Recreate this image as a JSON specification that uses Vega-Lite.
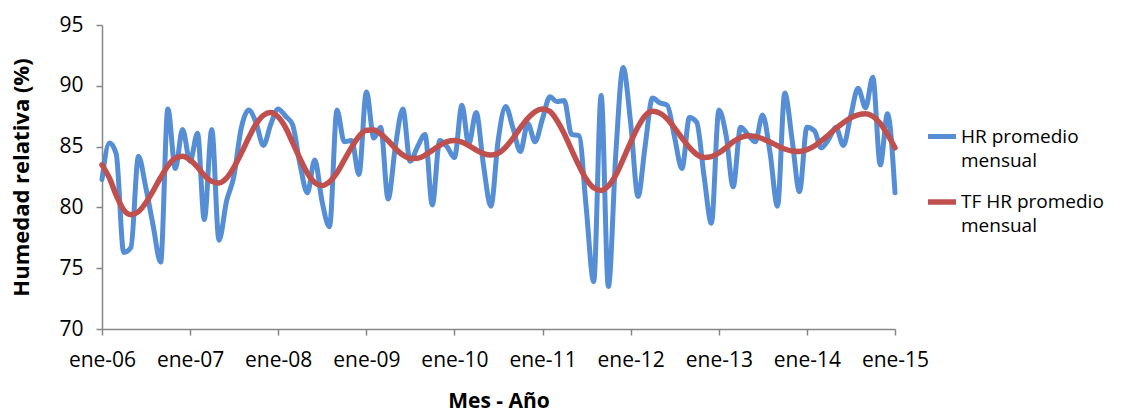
{
  "$schema": "https://vega.github.io/schema/vega-lite/v6.json",
  "width": 793,
  "height": 304,
  "autosize": {"type": "none"},
  "padding": {"left": 102, "top": 25, "right": 232, "bottom": 83},
  "background": "white",
  "config": {
    "view": {"stroke": null},
    "font": "Open Sans"
  },
  "data": {
    "values": [
      {"fecha": "2006-01-01", "hr": 82.3, "tf": 83.5},
      {"fecha": "2006-02-01", "hr": 85.3, "tf": 82.4},
      {"fecha": "2006-03-01", "hr": 84.4, "tf": 81.0},
      {"fecha": "2006-04-01", "hr": 76.3, "tf": 79.8},
      {"fecha": "2006-05-01", "hr": 76.7, "tf": 79.4},
      {"fecha": "2006-06-01", "hr": 84.2, "tf": 79.65},
      {"fecha": "2006-07-01", "hr": 81.7, "tf": 80.36},
      {"fecha": "2006-08-01", "hr": 78.5, "tf": 81.36},
      {"fecha": "2006-09-01", "hr": 75.5, "tf": 82.46},
      {"fecha": "2006-10-01", "hr": 88.1, "tf": 83.42},
      {"fecha": "2006-11-01", "hr": 83.2, "tf": 84.04},
      {"fecha": "2006-12-01", "hr": 86.4, "tf": 84.2},
      {"fecha": "2007-01-01", "hr": 83.8, "tf": 83.9},
      {"fecha": "2007-02-01", "hr": 86.1, "tf": 83.31},
      {"fecha": "2007-03-01", "hr": 79.0, "tf": 82.63},
      {"fecha": "2007-04-01", "hr": 86.4, "tf": 82.14},
      {"fecha": "2007-05-01", "hr": 77.3, "tf": 82.0},
      {"fecha": "2007-06-01", "hr": 80.5, "tf": 82.4},
      {"fecha": "2007-07-01", "hr": 82.5, "tf": 83.27},
      {"fecha": "2007-08-01", "hr": 86.5, "tf": 84.45},
      {"fecha": "2007-09-01", "hr": 88.0, "tf": 85.72},
      {"fecha": "2007-10-01", "hr": 87.0, "tf": 86.83},
      {"fecha": "2007-11-01", "hr": 85.1, "tf": 87.57},
      {"fecha": "2007-12-01", "hr": 86.8, "tf": 87.8},
      {"fecha": "2008-01-01", "hr": 88.1, "tf": 87.44},
      {"fecha": "2008-02-01", "hr": 87.5, "tf": 86.56},
      {"fecha": "2008-03-01", "hr": 86.8, "tf": 85.33},
      {"fecha": "2008-04-01", "hr": 83.5, "tf": 84.0},
      {"fecha": "2008-05-01", "hr": 81.2, "tf": 82.83},
      {"fecha": "2008-06-01", "hr": 83.9, "tf": 82.04},
      {"fecha": "2008-07-01", "hr": 80.5, "tf": 81.8},
      {"fecha": "2008-08-01", "hr": 78.4, "tf": 82.11},
      {"fecha": "2008-09-01", "hr": 88.0, "tf": 82.86},
      {"fecha": "2008-10-01", "hr": 85.4, "tf": 83.88},
      {"fecha": "2008-11-01", "hr": 85.5, "tf": 84.96},
      {"fecha": "2008-12-01", "hr": 82.7, "tf": 85.84},
      {"fecha": "2009-01-01", "hr": 89.5, "tf": 86.34},
      {"fecha": "2009-02-01", "hr": 85.7, "tf": 86.36},
      {"fecha": "2009-03-01", "hr": 86.6, "tf": 86.04},
      {"fecha": "2009-04-01", "hr": 80.7, "tf": 85.48},
      {"fecha": "2009-05-01", "hr": 85.0, "tf": 84.85},
      {"fecha": "2009-06-01", "hr": 88.1, "tf": 84.32},
      {"fecha": "2009-07-01", "hr": 83.8, "tf": 84.03},
      {"fecha": "2009-08-01", "hr": 85.0, "tf": 84.04},
      {"fecha": "2009-09-01", "hr": 86.0, "tf": 84.29},
      {"fecha": "2009-10-01", "hr": 80.2, "tf": 84.69},
      {"fecha": "2009-11-01", "hr": 85.5, "tf": 85.1},
      {"fecha": "2009-12-01", "hr": 85.0, "tf": 85.4},
      {"fecha": "2010-01-01", "hr": 84.1, "tf": 85.5},
      {"fecha": "2010-02-01", "hr": 88.4, "tf": 85.37},
      {"fecha": "2010-03-01", "hr": 85.2, "tf": 85.08},
      {"fecha": "2010-04-01", "hr": 87.8, "tf": 84.72},
      {"fecha": "2010-05-01", "hr": 83.5, "tf": 84.43},
      {"fecha": "2010-06-01", "hr": 80.1, "tf": 84.3},
      {"fecha": "2010-07-01", "hr": 85.5, "tf": 84.45},
      {"fecha": "2010-08-01", "hr": 88.3, "tf": 84.95},
      {"fecha": "2010-09-01", "hr": 86.5, "tf": 85.69},
      {"fecha": "2010-10-01", "hr": 84.6, "tf": 86.54},
      {"fecha": "2010-11-01", "hr": 86.9, "tf": 87.32},
      {"fecha": "2010-12-01", "hr": 85.4, "tf": 87.87},
      {"fecha": "2011-01-01", "hr": 87.3, "tf": 88.1},
      {"fecha": "2011-02-01", "hr": 89.1, "tf": 87.88},
      {"fecha": "2011-03-01", "hr": 88.7, "tf": 87.17},
      {"fecha": "2011-04-01", "hr": 88.8, "tf": 86.06},
      {"fecha": "2011-05-01", "hr": 86.0, "tf": 84.75},
      {"fecha": "2011-06-01", "hr": 85.9, "tf": 83.44},
      {"fecha": "2011-07-01", "hr": 80.0, "tf": 82.33},
      {"fecha": "2011-08-01", "hr": 73.9, "tf": 81.61},
      {"fecha": "2011-09-01", "hr": 89.2, "tf": 81.4},
      {"fecha": "2011-10-01", "hr": 73.5, "tf": 81.77},
      {"fecha": "2011-11-01", "hr": 84.5, "tf": 82.67},
      {"fecha": "2011-12-01", "hr": 91.5, "tf": 83.95},
      {"fecha": "2012-01-01", "hr": 87.0, "tf": 85.35},
      {"fecha": "2012-02-01", "hr": 80.9, "tf": 86.63},
      {"fecha": "2012-03-01", "hr": 85.0, "tf": 87.53},
      {"fecha": "2012-04-01", "hr": 89.0, "tf": 87.9},
      {"fecha": "2012-05-01", "hr": 88.6, "tf": 87.75},
      {"fecha": "2012-06-01", "hr": 88.4, "tf": 87.27},
      {"fecha": "2012-07-01", "hr": 85.8, "tf": 86.54},
      {"fecha": "2012-08-01", "hr": 83.2, "tf": 85.71},
      {"fecha": "2012-09-01", "hr": 87.4, "tf": 84.93},
      {"fecha": "2012-10-01", "hr": 87.0, "tf": 84.36},
      {"fecha": "2012-11-01", "hr": 82.5, "tf": 84.11},
      {"fecha": "2012-12-01", "hr": 78.7, "tf": 84.18},
      {"fecha": "2013-01-01", "hr": 88.0, "tf": 84.48},
      {"fecha": "2013-02-01", "hr": 85.8, "tf": 84.93},
      {"fecha": "2013-03-01", "hr": 81.7, "tf": 85.39},
      {"fecha": "2013-04-01", "hr": 86.6, "tf": 85.75},
      {"fecha": "2013-05-01", "hr": 86.0, "tf": 85.9},
      {"fecha": "2013-06-01", "hr": 85.4, "tf": 85.84},
      {"fecha": "2013-07-01", "hr": 87.6, "tf": 85.65},
      {"fecha": "2013-08-01", "hr": 84.5, "tf": 85.37},
      {"fecha": "2013-09-01", "hr": 80.1, "tf": 85.07},
      {"fecha": "2013-10-01", "hr": 89.4, "tf": 84.8},
      {"fecha": "2013-11-01", "hr": 85.5, "tf": 84.64},
      {"fecha": "2013-12-01", "hr": 81.3, "tf": 84.6},
      {"fecha": "2014-01-01", "hr": 86.6, "tf": 84.75},
      {"fecha": "2014-02-01", "hr": 86.3, "tf": 85.05},
      {"fecha": "2014-03-01", "hr": 84.9, "tf": 85.47},
      {"fecha": "2014-04-01", "hr": 85.6, "tf": 85.97},
      {"fecha": "2014-05-01", "hr": 86.6, "tf": 86.49},
      {"fecha": "2014-06-01", "hr": 85.1, "tf": 86.97},
      {"fecha": "2014-07-01", "hr": 87.5, "tf": 87.36},
      {"fecha": "2014-08-01", "hr": 89.8, "tf": 87.61},
      {"fecha": "2014-09-01", "hr": 88.2, "tf": 87.7},
      {"fecha": "2014-10-01", "hr": 90.7, "tf": 87.5},
      {"fecha": "2014-11-01", "hr": 83.5, "tf": 86.9},
      {"fecha": "2014-12-01", "hr": 87.7, "tf": 86.0},
      {"fecha": "2015-01-01", "hr": 81.2, "tf": 84.9}
    ]
  },
  "transform": [
    {"fold": ["hr", "tf"], "as": ["serie", "valor"]}
  ],
  "mark": {"type": "line", "interpolate": "monotone", "strokeCap": "round", "strokeJoin": "round"},
  "encoding": {
    "x": {
      "field": "fecha",
      "type": "temporal",
      "scale": {
        "type": "utc",
        "domain": [
          {"year": 2006, "month": 1, "date": 1, "utc": true},
          {"year": 2015, "month": 1, "date": 1, "utc": true}
        ],
        "nice": false
      },
      "axis": {
        "title": "Mes - Año",
        "titleFont": "Open Sans",
        "titleFontSize": 21,
        "titleFontWeight": "bold",
        "titleColor": "#000000",
        "titlePadding": 20,
        "values": [
          {"year": 2006, "month": 1, "date": 1, "utc": true},
          {"year": 2007, "month": 1, "date": 1, "utc": true},
          {"year": 2008, "month": 1, "date": 1, "utc": true},
          {"year": 2009, "month": 1, "date": 1, "utc": true},
          {"year": 2010, "month": 1, "date": 1, "utc": true},
          {"year": 2011, "month": 1, "date": 1, "utc": true},
          {"year": 2012, "month": 1, "date": 1, "utc": true},
          {"year": 2013, "month": 1, "date": 1, "utc": true},
          {"year": 2014, "month": 1, "date": 1, "utc": true},
          {"year": 2015, "month": 1, "date": 1, "utc": true}
        ],
        "labelExpr": "'ene-' + utcFormat(datum.value, '%y')",
        "labelFont": "Open Sans",
        "labelFontSize": 21,
        "labelColor": "#000000",
        "labelPadding": 14,
        "labelFlush": false,
        "labelOverlap": false,
        "grid": false,
        "domainColor": "#868686",
        "domainWidth": 1.5,
        "tickColor": "#868686",
        "tickWidth": 1.5,
        "tickSize": 6
      }
    },
    "y": {
      "field": "valor",
      "type": "quantitative",
      "scale": {"domain": [70, 95], "nice": false, "zero": false},
      "axis": {
        "title": "Humedad relativa (%)",
        "titleFont": "Open Sans",
        "titleFontSize": 22,
        "titleFontWeight": "bold",
        "titleColor": "#000000",
        "titlePadding": 25,
        "values": [70, 75, 80, 85, 90, 95],
        "labelFont": "Open Sans",
        "labelFontSize": 21,
        "labelColor": "#000000",
        "labelPadding": 13,
        "grid": false,
        "domainColor": "#868686",
        "domainWidth": 1.5,
        "tickColor": "#868686",
        "tickWidth": 1.5,
        "tickSize": 6
      }
    },
    "color": {
      "field": "serie",
      "type": "nominal",
      "scale": {"domain": ["hr", "tf"], "range": ["#558ED5", "#C0504D"]},
      "legend": {
        "title": null,
        "orient": "none",
        "legendX": 823,
        "legendY": 95,
        "symbolType": "stroke",
        "symbolSize": 784,
        "symbolStrokeWidth": 5,
        "labelFont": "Open Sans",
        "labelFontSize": 19,
        "labelColor": "#000000",
        "labelLimit": 300,
        "labelExpr": "datum.value == 'hr' ? ['HR promedio', 'mensual'] : ['TF HR promedio', 'mensual']",
        "rowPadding": 14,
        "labelOffset": 2,
        "encode": {"labels": {"update": {"lineHeight": {"value": 24}}}}
      }
    },
    "strokeWidth": {
      "field": "serie",
      "type": "nominal",
      "scale": {"domain": ["hr", "tf"], "range": [5, 5.5]},
      "legend": null
    }
  }
}
